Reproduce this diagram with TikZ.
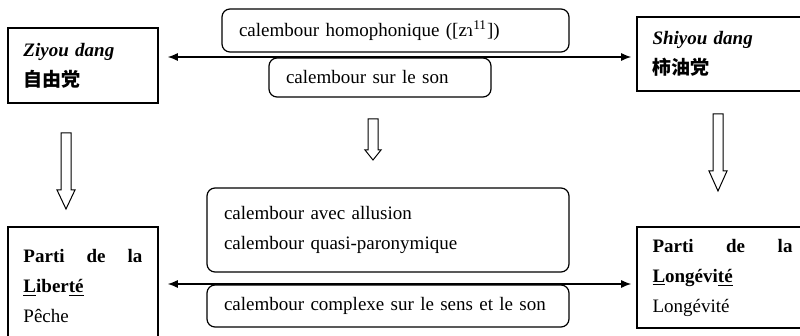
\documentclass[tikz,border=0pt]{standalone}
\usepackage{fontspec}
\setmainfont{Liberation Serif}
\newfontfamily\cjk{Noto Sans CJK SC}
\usetikzlibrary{arrows.meta}

\begin{document}
\begin{tikzpicture}
        [
            x=0.5pt, y=-0.5pt,
            every node/.style={font=\fontsize{9.5pt}{15pt}\selectfont},
            party/.style={draw, line width=0.8pt, inner xsep=7.75pt, align=left},
            pun/.style={draw, rounded corners=4pt, line width=0.6pt, inner xsep=8.5pt, align=left},
            link/.style={{Latex[length=5pt,width=4pt]}-{Latex[length=5pt,width=4pt]}, line width=0.6pt},
            hollow/.style={draw, line width=0.5pt, fill=white},
        ]
            \useasboundingbox (0,0) rectangle (800,336);
            \clip (0,0) rectangle (800,336);

            \node[party, text width=59.5pt, minimum height=37.5pt] (ziyou) at (83,65.5) {\textbf{\textit{Ziyou dang}}\\{\cjk\bfseries 自由党}};
            \node[party, text width=70pt, minimum height=37pt] (shiyou) at (722.5,54) {\textbf{\textit{Shiyou dang}}\\{\cjk\bfseries 柿油党}};
            \node[party, text width=59.5pt, minimum height=59pt] (liberte) at (83,286) {\hbox to 59.5pt{\textbf{Parti}\hfill\textbf{de}\hfill\textbf{la}}\\\textbf{\underline{L}iber\underline{té}}\\P\^eche};
            \node[party, text width=70pt, minimum height=50.5pt] (longevite) at (722.5,277.5) {\hbox to 70pt{\textbf{Parti}\hfill\textbf{de}\hfill\textbf{la}}\\\textbf{\underline{L}ongévi\underline{té}}\\Longévité};

            \node[pun, text width=156.5pt, minimum height=21.5pt] (homo) at (395.5,30.5) {calembour homophonique ([zɿ\textsuperscript{11}])};
            \node[pun, text width=94pt, minimum height=19.5pt] (son) at (380,77.5) {calembour sur le son};
            \node[pun, text width=164pt, minimum height=42pt] (allusion) at (388,230) {calembour avec allusion\\calembour quasi-paronymique};
            \node[pun, text width=164pt, minimum height=21pt] (complexe) at (388,306) {calembour complexe sur le sens et le son};

            \coordinate (upper) at (0,57);
            \coordinate (lower) at (0,284);
            \draw[link, shorten <=4.5pt, shorten >=2.5pt] (ziyou.east |- upper) -- (shiyou.west |- upper);
            \draw[link, shorten <=4.5pt, shorten >=2.5pt] (liberte.east |- lower) -- (longevite.west |- lower);

            % hollow arrows
            \draw[hollow] (61,133) -- (71,133) -- (71,190) -- (75,190) -- (66,209) -- (57,190) -- (61,190) -- cycle;
            \draw[hollow] (368,119) -- (378,119) -- (378,150) -- (381,150) -- (373,160) -- (365,150) -- (368,150) -- cycle;
            \draw[hollow] (713,114) -- (723,114) -- (723,171) -- (727,171) -- (718,191) -- (709,171) -- (713,171) -- cycle;
        \end{tikzpicture}
\end{document}
